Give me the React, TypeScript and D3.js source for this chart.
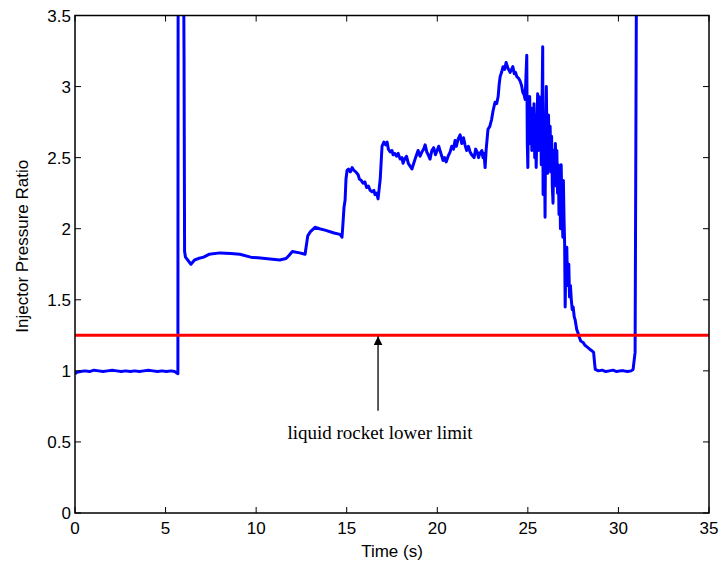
import React from "react";
import * as d3 from "d3";

const xTicks = [0, 5, 10, 15, 20, 25, 30, 35];
const yTicks = [0, 0.5, 1, 1.5, 2, 2.5, 3, 3.5];
const limitValue = 1.25;
const arrowX = 16.73;
const arrowBottom = 0.72;
const annotation = "liquid rocket lower limit";
const xLabel = "Time (s)";
const yLabel = "Injector Pressure Ratio";

// time (s)
const times: number[] = [
  // idle before ignition
  0, 0.1, 0.3, 0.55, 0.8, 1.05, 1.3, 1.55, 1.8, 2.05, 2.3, 2.55, 2.8, 3.05, 3.3, 3.55,
  3.8, 4.05, 4.3, 4.55, 4.8, 5.05, 5.3, 5.5, 5.68,
  // ignition spike and early burn
  5.7, 5.95, 6.02, 6.05, 6.1, 6.4, 6.6, 6.8, 7.1, 7.4, 8.0, 8.6, 9.1, 9.7, 10.1, 10.5,
  11.3, 11.65, 11.8, 12.0, 12.4, 12.7, 12.85, 13.0, 13.25, 13.5, 13.8, 14.3, 14.63,
  14.74, 14.8, 14.85, 14.91, 14.96,
  // mid burn
  15.02, 15.1, 15.2, 15.3, 15.4, 15.5, 15.63, 15.7, 15.8, 15.9, 16.0, 16.1, 16.2, 16.29,
  16.4, 16.5, 16.56, 16.65, 16.73, 16.85, 16.95, 17.05, 17.15, 17.23, 17.3, 17.4, 17.5,
  17.56, 17.65, 17.75, 17.84, 17.95, 18.05, 18.11, 18.2, 18.3, 18.4, 18.5, 18.6, 18.7,
  18.8, 18.94, 19.05, 19.15, 19.25, 19.33, 19.42, 19.5, 19.6, 19.7, 19.8, 19.9, 19.99,
  20.08, 20.15, 20.25, 20.32, 20.4, 20.49, 20.6, 20.71, 20.8, 20.9, 20.98, 21.05, 21.15,
  21.26, 21.35, 21.45, 21.53, 21.62, 21.72, 21.81, 21.9, 22.03, 22.12, 22.2, 22.28,
  22.35, 22.46, 22.52, 22.58, 22.64, 22.7, 22.8, 22.9, 23.0, 23.08, 23.19, 23.28, 23.36,
  23.42, 23.47, 23.55, 23.63, 23.72, 23.8, 23.9, 24.02, 24.1, 24.17, 24.25, 24.32, 24.39,
  24.48, 24.57, 24.65, 24.72, 24.8, 24.85,
  // unstable region
  24.94, 24.97, 25.0, 25.03, 25.07, 25.1, 25.14, 25.18, 25.22, 25.26, 25.3, 25.34, 25.38,
  25.42, 25.46, 25.5, 25.54, 25.58, 25.62, 25.66, 25.7, 25.74, 25.78, 25.82, 25.84,
  25.88, 25.92, 25.95, 25.98, 26.02, 26.06, 26.1, 26.14, 26.18, 26.23, 26.27, 26.31,
  26.35, 26.39, 26.43, 26.47, 26.52, 26.56, 26.6, 26.64, 26.68, 26.72, 26.76, 26.8,
  26.84, 26.88, 26.93, 26.96, 27.0, 27.03, 27.06, 27.1, 27.15, 27.19, 27.22, 27.26,
  27.3, 27.35, 27.4, 27.45, 27.5, 27.56, 27.61, 27.66, 27.7, 27.76, 27.83, 27.92,
  28.05, 28.15, 28.25, 28.35, 28.44, 28.55, 28.63, 28.68,
  // tail-off
  28.72, 28.9, 29.1, 29.3, 29.5, 29.7, 29.9, 30.1, 30.3, 30.5, 30.7, 30.81, 30.92, 31.03,
];

// injector pressure ratio
const ratios: number[] = [
  0.98, 0.99, 0.995, 1.0, 0.995, 1.005, 1.0, 0.995, 1.0, 1.005, 1.0, 0.995, 1.0, 0.995,
  1.0, 0.995, 1.0, 1.005, 1.0, 0.995, 1.0, 0.995, 1.0, 0.995, 0.98,
  5.0, 5.0, 3.2, 1.84, 1.8, 1.75, 1.78, 1.79, 1.8, 1.82, 1.83, 1.825, 1.82, 1.8, 1.795,
  1.79, 1.78, 1.79, 1.81, 1.84, 1.83, 1.82, 1.95, 1.98, 2.01, 2.0, 1.99, 1.97, 1.96,
  1.94, 2.05, 2.15, 2.2, 2.35,
  2.41, 2.42, 2.4, 2.43, 2.41, 2.4, 2.38, 2.35, 2.34, 2.32, 2.33, 2.29, 2.3, 2.27,
  2.26, 2.27, 2.24, 2.25, 2.21, 2.35, 2.58, 2.61, 2.59, 2.61, 2.56, 2.54, 2.55,
  2.52, 2.53, 2.51, 2.53, 2.49, 2.5, 2.46, 2.49, 2.51, 2.46, 2.44, 2.42, 2.46,
  2.5, 2.55, 2.51, 2.54, 2.56, 2.59, 2.54, 2.52, 2.49, 2.55, 2.57, 2.52, 2.55,
  2.58, 2.55, 2.51, 2.48, 2.5, 2.47, 2.51, 2.54, 2.58, 2.56, 2.62, 2.58, 2.63,
  2.66, 2.6, 2.64, 2.59, 2.55, 2.58, 2.54, 2.52, 2.5, 2.56, 2.54, 2.5,
  2.53, 2.55, 2.5, 2.53, 2.43, 2.56, 2.7, 2.72, 2.77, 2.83, 2.89, 2.88, 2.93,
  3.02, 3.07, 3.1, 3.14, 3.12, 3.17, 3.13, 3.1, 3.12, 3.14, 3.09, 3.1, 3.07,
  3.06, 3.04, 3.01, 2.96, 2.94, 2.91,
  3.22, 2.6, 2.43, 2.9, 2.75, 2.93, 2.6, 2.85, 2.55, 2.84, 2.7, 2.88, 2.5,
  2.8, 2.43, 2.7, 2.95, 2.55, 2.93, 2.6, 2.9, 2.45, 2.85, 3.28, 2.24,
  2.8, 2.5, 2.08, 2.7, 3.0, 2.55, 2.39, 2.8, 2.5, 2.72, 2.4, 2.65,
  2.3, 2.18, 2.55, 2.35, 2.6, 2.3, 2.55, 2.25, 2.45, 2.1, 2.4, 2.0,
  2.45, 2.15, 1.94, 2.34, 2.05, 1.9, 1.45, 1.8, 1.87, 1.6, 1.62, 1.75,
  1.52, 1.6, 1.5, 1.43, 1.45, 1.38, 1.36, 1.32, 1.29, 1.27, 1.24, 1.21,
  1.2, 1.18, 1.17, 1.16, 1.15, 1.14, 1.13, 1.06,
  1.01, 1.0, 1.005, 0.995, 1.0, 1.005, 0.995, 1.0, 1.0, 0.995, 1.0, 1.01, 1.13, 5.0,
];

const W = 719;
const H = 567;
const left = 75;
const right = 709;
const top = 15.5;
const bottom = 513;

export default function App() {
  const x = d3.scaleLinear().domain([0, 35]).range([left, right]);
  const y = d3.scaleLinear().domain([0, 3.5]).range([bottom, top]);
  const pts: [number, number][] = times.map((t, i) => [t, ratios[i]]);
  const line = d3
    .line<[number, number]>()
    .x((d) => x(d[0]))
    .y((d) => y(d[1]));
  const tickLen = 6;
  const sans = "'Liberation Sans', Arial, sans-serif";
  return (
    <svg
      width={W}
      height={H}
      style={{ position: "absolute", left: 0, top: 0, background: "#fff" }}
    >
      <defs>
        <clipPath id="plot">
          <rect x={left} y={top} width={right - left} height={bottom - top} />
        </clipPath>
        <marker
          id="arrowhead"
          viewBox="0 0 10 10"
          refX="10"
          refY="5"
          markerWidth="9"
          markerHeight="9"
          orient="auto"
          markerUnits="userSpaceOnUse"
        >
          <path d="M0,0 L10,5 L0,10 z" fill="#000" />
        </marker>
      </defs>
      <rect x={0} y={0} width={W} height={H} fill="#fff" />
      <g clipPath="url(#plot)">
        <path
          d={line(pts) || ""}
          fill="none"
          stroke="#0000ff"
          strokeWidth={3}
          strokeLinejoin="round"
        />
        <line
          x1={x(0)}
          x2={x(35)}
          y1={y(limitValue)}
          y2={y(limitValue)}
          stroke="#ff0000"
          strokeWidth={3}
        />
      </g>
      <line
        x1={x(arrowX)}
        x2={x(arrowX)}
        y1={y(arrowBottom)}
        y2={y(limitValue) + 1}
        stroke="#222"
        strokeWidth={1.5}
        markerEnd="url(#arrowhead)"
      />
      <text
        x={x(arrowX) + 2}
        y={y(arrowBottom) + 28}
        textAnchor="middle"
        fontFamily="'Liberation Serif', 'Times New Roman', serif"
        fontSize={19}
        fill="#000"
      >
        {annotation}
      </text>
      <rect
        x={left}
        y={top}
        width={right - left}
        height={bottom - top}
        fill="none"
        stroke="#000"
        strokeWidth={1.5}
      />
      {xTicks.map((t) => (
        <g key={"x" + t}>
          <line x1={x(t)} x2={x(t)} y1={bottom} y2={bottom - tickLen} stroke="#000" />
          <line x1={x(t)} x2={x(t)} y1={top} y2={top + tickLen} stroke="#000" />
          <text
            x={x(t)}
            y={bottom + 21}
            textAnchor="middle"
            fontFamily={sans}
            fontSize={17}
            fill="#000"
          >
            {t}
          </text>
        </g>
      ))}
      {yTicks.map((t) => (
        <g key={"y" + t}>
          <line x1={left} x2={left + tickLen} y1={y(t)} y2={y(t)} stroke="#000" />
          <line x1={right} x2={right - tickLen} y1={y(t)} y2={y(t)} stroke="#000" />
          <text
            x={left - 4}
            y={y(t) + 6}
            textAnchor="end"
            fontFamily={sans}
            fontSize={17}
            fill="#000"
          >
            {t}
          </text>
        </g>
      ))}
      <text
        x={(left + right) / 2}
        y={557}
        textAnchor="middle"
        fontFamily={sans}
        fontSize={17}
        fill="#000"
      >
        {xLabel}
      </text>
      <text
        transform={`translate(28, ${(top + bottom) / 2 - 18}) rotate(-90)`}
        textAnchor="middle"
        fontFamily={sans}
        fontSize={17}
        fill="#000"
      >
        {yLabel}
      </text>
    </svg>
  );
}
